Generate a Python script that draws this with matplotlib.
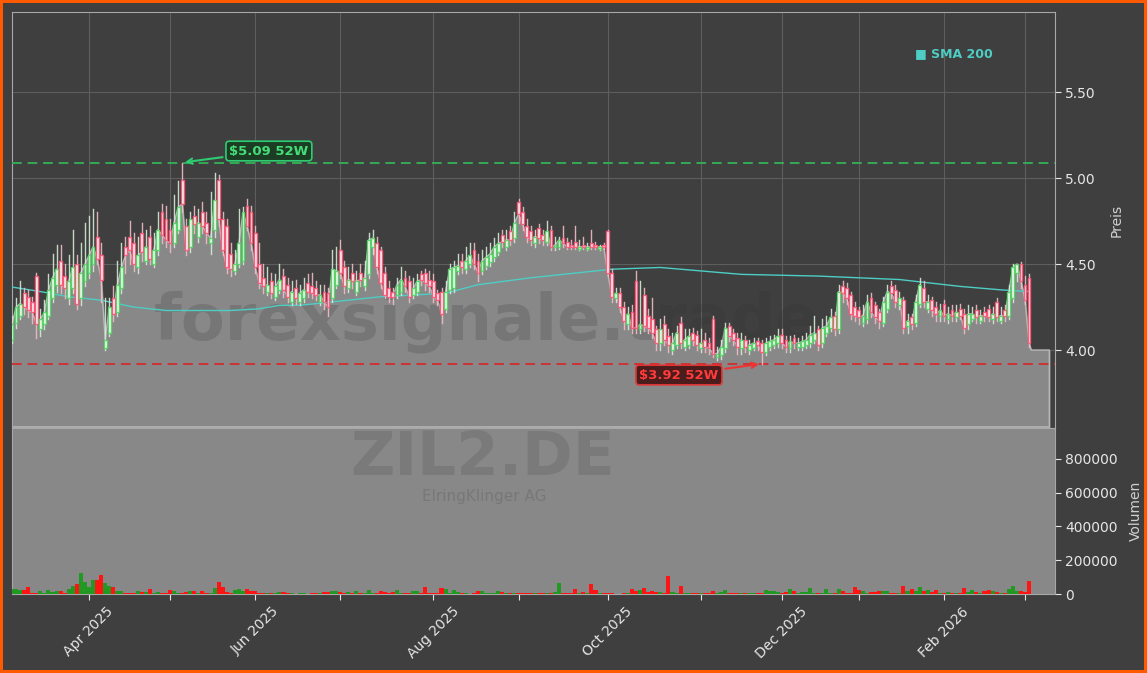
import matplotlib
matplotlib.use('Agg')
import matplotlib.pyplot as plt
from matplotlib.patches import Rectangle
import pandas as pd

# trading calendar (Xetra), Mar 2025 - Mar 2026
holidays = ['2025-04-18', '2025-04-21', '2025-05-01', '2025-12-24', '2025-12-25',
            '2025-12-26', '2025-12-31', '2026-01-01']

opens = [
    4.20, 4.06, 4.16, 4.20, 4.33, 4.31, 4.28, 4.43, 4.12, 4.15,
    4.20, 4.30, 4.38, 4.52, 4.43, 4.30, 4.36, 4.50, 4.30, 4.40,
    4.45, 4.50, 4.66, 4.55, 4.01, 4.10, 4.30, 4.22, 4.36, 4.60,
    4.66, 4.62, 4.48, 4.68, 4.52, 4.66, 4.50, 4.58, 4.80, 4.76,
    4.70, 4.62, 4.70, 4.99, 4.72, 4.60, 4.78, 4.66, 4.80, 4.74,
    4.62, 4.70, 4.99, 4.76, 4.72, 4.56, 4.46, 4.50, 4.52, 4.84,
    4.80, 4.68, 4.50, 4.42, 4.34, 4.40, 4.31, 4.35, 4.43, 4.38,
    4.28, 4.36, 4.28, 4.30, 4.39, 4.37, 4.36, 4.28, 4.34, 4.33,
    4.30, 4.38, 4.58, 4.48, 4.36, 4.45, 4.34, 4.45, 4.37, 4.44,
    4.60, 4.62, 4.58, 4.45, 4.36, 4.34, 4.32, 4.34, 4.42, 4.40,
    4.32, 4.34, 4.44, 4.45, 4.41, 4.40, 4.33, 4.34, 4.24, 4.35,
    4.36, 4.46, 4.52, 4.47, 4.50, 4.58, 4.52, 4.46, 4.49, 4.51,
    4.54, 4.57, 4.67, 4.60, 4.69, 4.65, 4.86, 4.80, 4.72, 4.69,
    4.62, 4.71, 4.67, 4.63, 4.70, 4.60, 4.60, 4.65, 4.63, 4.61,
    4.63, 4.59, 4.61, 4.59, 4.62, 4.61, 4.59, 4.61, 4.69, 4.45,
    4.30, 4.33, 4.25, 4.15, 4.22, 4.40, 4.12, 4.32, 4.20, 4.18,
    4.12, 4.04, 4.15, 4.08, 4.00, 4.03, 4.16, 4.02, 4.03, 4.10,
    4.09, 4.01, 4.06, 4.04, 4.18, 3.96, 3.97, 4.01, 4.14, 4.10,
    4.07, 4.01, 4.06, 4.00, 4.01, 4.05, 4.04, 3.99, 4.02, 4.03,
    4.04, 4.09, 4.06, 4.01, 4.07, 4.02, 4.02, 4.03, 4.04, 4.06,
    4.12, 4.04, 4.10, 4.13, 4.20, 4.12, 4.37, 4.36, 4.32, 4.25,
    4.23, 4.16, 4.18, 4.30, 4.26, 4.22, 4.16, 4.24, 4.37, 4.35,
    4.26, 4.29, 4.14, 4.19, 4.16, 4.27, 4.36, 4.24, 4.29, 4.25,
    4.20, 4.27, 4.18, 4.23, 4.19, 4.24, 4.21, 4.15, 4.18, 4.23,
    4.17, 4.22, 4.24, 4.18, 4.28, 4.17, 4.23, 4.20, 4.30, 4.45,
    4.50, 4.38, 4.42,
]
highs = [
    4.24, 4.20, 4.30, 4.40, 4.36, 4.35, 4.31, 4.45, 4.24, 4.29,
    4.44, 4.56, 4.61, 4.61, 4.50, 4.55, 4.70, 4.55, 4.62, 4.74,
    4.78, 4.82, 4.80, 4.62, 4.30, 4.30, 4.37, 4.52, 4.62, 4.66,
    4.75, 4.68, 4.66, 4.74, 4.70, 4.72, 4.68, 4.80, 4.85, 4.84,
    4.76, 4.90, 4.98, 5.09, 4.76, 4.80, 4.84, 4.82, 4.86, 4.80,
    4.92, 5.03, 5.02, 4.80, 4.76, 4.62, 4.58, 4.82, 4.83, 4.88,
    4.84, 4.72, 4.62, 4.50, 4.48, 4.45, 4.44, 4.50, 4.47, 4.42,
    4.40, 4.41, 4.38, 4.42, 4.44, 4.45, 4.40, 4.38, 4.38, 4.36,
    4.58, 4.60, 4.64, 4.52, 4.48, 4.50, 4.46, 4.50, 4.52, 4.68,
    4.70, 4.66, 4.60, 4.48, 4.40, 4.36, 4.42, 4.48, 4.46, 4.43,
    4.42, 4.44, 4.46, 4.47, 4.46, 4.44, 4.35, 4.36, 4.40, 4.50,
    4.52, 4.56, 4.56, 4.60, 4.62, 4.62, 4.56, 4.58, 4.60, 4.62,
    4.65, 4.68, 4.70, 4.70, 4.72, 4.80, 4.88, 4.83, 4.76, 4.72,
    4.70, 4.73, 4.70, 4.75, 4.72, 4.66, 4.66, 4.72, 4.65, 4.64,
    4.72, 4.64, 4.66, 4.62, 4.70, 4.63, 4.61, 4.62, 4.70, 4.47,
    4.36, 4.36, 4.28, 4.25, 4.26, 4.46, 4.40, 4.36, 4.24, 4.30,
    4.14, 4.18, 4.20, 4.12, 4.10, 4.14, 4.19, 4.12, 4.12, 4.13,
    4.11, 4.12, 4.10, 4.07, 4.20, 4.02, 4.06, 4.16, 4.16, 4.12,
    4.10, 4.10, 4.08, 4.06, 4.07, 4.07, 4.06, 4.07, 4.08, 4.09,
    4.12, 4.12, 4.08, 4.08, 4.09, 4.07, 4.08, 4.10, 4.14, 4.20,
    4.14, 4.18, 4.20, 4.24, 4.22, 4.38, 4.40, 4.39, 4.34, 4.28,
    4.25, 4.26, 4.32, 4.33, 4.28, 4.24, 4.31, 4.38, 4.40, 4.38,
    4.34, 4.31, 4.21, 4.21, 4.32, 4.42, 4.40, 4.32, 4.31, 4.28,
    4.27, 4.29, 4.25, 4.26, 4.26, 4.27, 4.24, 4.26, 4.25, 4.26,
    4.23, 4.25, 4.26, 4.25, 4.30, 4.25, 4.26, 4.38, 4.50, 4.50,
    4.51, 4.43, 4.44,
]
lows = [
    4.08, 4.04, 4.13, 4.18, 4.21, 4.19, 4.16, 4.07, 4.08, 4.12,
    4.18, 4.28, 4.34, 4.33, 4.30, 4.27, 4.33, 4.24, 4.26, 4.37,
    4.42, 4.46, 4.50, 4.28, 4.00, 4.08, 4.17, 4.20, 4.33, 4.45,
    4.50, 4.46, 4.45, 4.52, 4.50, 4.50, 4.48, 4.55, 4.62, 4.60,
    4.57, 4.60, 4.68, 4.80, 4.55, 4.57, 4.68, 4.63, 4.68, 4.62,
    4.56, 4.66, 4.72, 4.55, 4.45, 4.43, 4.44, 4.48, 4.50, 4.70,
    4.58, 4.45, 4.36, 4.33, 4.32, 4.30, 4.29, 4.33, 4.31, 4.28,
    4.26, 4.27, 4.26, 4.28, 4.31, 4.30, 4.29, 4.26, 4.24, 4.20,
    4.28, 4.36, 4.42, 4.33, 4.34, 4.36, 4.32, 4.37, 4.35, 4.42,
    4.56, 4.45, 4.36, 4.30, 4.28, 4.27, 4.30, 4.32, 4.34, 4.28,
    4.30, 4.32, 4.38, 4.35, 4.34, 4.28, 4.26, 4.16, 4.22, 4.33,
    4.34, 4.44, 4.45, 4.45, 4.48, 4.47, 4.40, 4.44, 4.47, 4.49,
    4.52, 4.55, 4.60, 4.58, 4.61, 4.63, 4.74, 4.70, 4.63, 4.61,
    4.60, 4.62, 4.61, 4.61, 4.58, 4.58, 4.59, 4.60, 4.59, 4.59,
    4.59, 4.58, 4.59, 4.58, 4.59, 4.59, 4.58, 4.59, 4.43, 4.28,
    4.28, 4.22, 4.12, 4.12, 4.10, 4.10, 4.10, 4.11, 4.10, 4.07,
    4.00, 4.00, 4.03, 3.99, 3.98, 4.01, 4.01, 4.00, 4.01, 4.03,
    4.00, 3.99, 3.99, 3.98, 3.96, 3.94, 3.95, 3.99, 4.05, 4.03,
    3.98, 3.98, 3.99, 3.98, 4.00, 4.00, 3.92, 3.97, 4.00, 4.01,
    4.02, 4.01, 3.99, 3.99, 4.01, 4.00, 4.00, 4.01, 4.02, 4.04,
    4.00, 4.02, 4.08, 4.11, 4.09, 4.10, 4.28, 4.27, 4.18, 4.17,
    4.15, 4.14, 4.16, 4.19, 4.16, 4.13, 4.14, 4.22, 4.30, 4.25,
    4.24, 4.10, 4.10, 4.12, 4.14, 4.25, 4.25, 4.22, 4.20, 4.17,
    4.17, 4.17, 4.16, 4.17, 4.17, 4.18, 4.10, 4.12, 4.17, 4.16,
    4.16, 4.17, 4.17, 4.16, 4.17, 4.16, 4.17, 4.18, 4.28, 4.40,
    4.36, 4.27, 4.02,
]
closes = [
    4.12, 4.15, 4.25, 4.27, 4.25, 4.23, 4.22, 4.15, 4.18, 4.22,
    4.35, 4.42, 4.47, 4.38, 4.36, 4.40, 4.48, 4.27, 4.45, 4.50,
    4.55, 4.60, 4.53, 4.41, 4.06, 4.25, 4.21, 4.38, 4.48, 4.55,
    4.58, 4.50, 4.55, 4.57, 4.60, 4.53, 4.58, 4.70, 4.67, 4.64,
    4.62, 4.74, 4.83, 4.85, 4.58, 4.76, 4.73, 4.74, 4.72, 4.68,
    4.65, 4.87, 4.76, 4.58, 4.48, 4.47, 4.50, 4.62, 4.80, 4.72,
    4.62, 4.48, 4.39, 4.37, 4.38, 4.33, 4.37, 4.41, 4.35, 4.31,
    4.34, 4.30, 4.33, 4.35, 4.34, 4.33, 4.32, 4.32, 4.28, 4.25,
    4.47, 4.46, 4.45, 4.37, 4.41, 4.40, 4.40, 4.41, 4.42, 4.64,
    4.65, 4.48, 4.39, 4.32, 4.31, 4.31, 4.38, 4.41, 4.37, 4.31,
    4.36, 4.40, 4.41, 4.39, 4.37, 4.31, 4.29, 4.21, 4.34, 4.47,
    4.48, 4.49, 4.48, 4.52, 4.55, 4.50, 4.45, 4.52, 4.54, 4.56,
    4.60, 4.62, 4.63, 4.64, 4.64, 4.74, 4.79, 4.73, 4.66, 4.64,
    4.66, 4.65, 4.64, 4.69, 4.60, 4.61, 4.64, 4.62, 4.60, 4.60,
    4.60, 4.60, 4.60, 4.60, 4.60, 4.60, 4.60, 4.60, 4.45, 4.31,
    4.33, 4.25, 4.17, 4.21, 4.13, 4.13, 4.15, 4.14, 4.13, 4.10,
    4.04, 4.12, 4.06, 4.03, 4.04, 4.10, 4.04, 4.06, 4.08, 4.06,
    4.03, 4.04, 4.02, 4.01, 3.98, 3.98, 4.02, 4.13, 4.08, 4.06,
    4.02, 4.06, 4.02, 4.03, 4.04, 4.03, 3.99, 4.04, 4.05, 4.06,
    4.08, 4.04, 4.02, 4.05, 4.04, 4.04, 4.05, 4.06, 4.09, 4.10,
    4.03, 4.13, 4.14, 4.19, 4.12, 4.34, 4.33, 4.30, 4.21, 4.20,
    4.19, 4.20, 4.28, 4.22, 4.19, 4.17, 4.28, 4.34, 4.33, 4.28,
    4.30, 4.13, 4.17, 4.15, 4.28, 4.38, 4.28, 4.28, 4.23, 4.21,
    4.23, 4.20, 4.21, 4.20, 4.22, 4.20, 4.13, 4.21, 4.21, 4.19,
    4.20, 4.20, 4.19, 4.21, 4.19, 4.20, 4.20, 4.34, 4.48, 4.50,
    4.40, 4.29, 4.04,
]
volumes = [
    35000, 30000, 28000, 25000, 22000, 40000, 8000, 8000, 20000, 6000,
    25000, 10000, 15000, 20000, 5000, 30000, 45000, 60000, 125000, 70000,
    40000, 85000, 85000, 112000, 65000, 45000, 40000, 20000, 15000, 5000,
    3000, 4000, 18000, 10000, 10000, 30000, 8000, 10000, 5000, 4000,
    25000, 20000, 6000, 4000, 12000, 15000, 20000, 6000, 20000, 5000,
    3000, 35000, 70000, 40000, 10000, 8000, 25000, 30000, 15000, 30000,
    20000, 15000, 5000, 5000, 4000, 3000, 5000, 10000, 10000, 3000,
    3000, 2000, 4000, 3000, 2000, 3000, 4000, 3000, 10000, 10000,
    15000, 15000, 12000, 3000, 10000, 3000, 15000, 4000, 3000, 25000,
    5000, 3000, 18000, 12000, 4000, 12000, 25000, 8000, 3000, 4000,
    18000, 18000, 4000, 40000, 8000, 5000, 3000, 38000, 30000, 5000,
    25000, 10000, 3000, 3000, 2000, 3000, 15000, 15000, 3000, 4000,
    3000, 15000, 10000, 3000, 3000, 8000, 8000, 3000, 8000, 3000,
    5000, 8000, 5000, 8000, 5000, 12000, 65000, 5000, 3000, 5000,
    30000, 3000, 10000, 4000, 58000, 22000, 5000, 3000, 8000, 8000,
    2000, 2000, 8000, 3000, 27000, 20000, 22000, 35000, 10000, 15000,
    12000, 12000, 3000, 105000, 10000, 5000, 48000, 3000, 5000, 8000,
    8000, 8000, 5000, 3000, 18000, 3000, 10000, 22000, 3000, 5000,
    8000, 8000, 8000, 8000, 3000, 5000, 8000, 25000, 15000, 15000,
    10000, 3000, 12000, 28000, 15000, 3000, 12000, 12000, 38000, 3000,
    5000, 3000, 28000, 3000, 3000, 32000, 15000, 3000, 5000, 40000,
    22000, 20000, 3000, 10000, 10000, 15000, 15000, 15000, 5000, 5000,
    3000, 45000, 15000, 28000, 20000, 40000, 20000, 25000, 10000, 25000,
    5000, 3000, 10000, 5000, 3000, 3000, 35000, 10000, 22000, 10000,
    3000, 18000, 22000, 18000, 10000, 3000, 3000, 30000, 48000, 15000,
    15000, 10000, 78000,
]

# SMA 200 read at a few trading-day positions
sma_at = [0, 8, 15, 23, 31, 39, 47, 55, 62, 67, 72, 80, 92, 108, 116, 129,
          141, 149, 161, 171, 181, 200, 210, 220, 235, 245, 252]
sma_vals = [4.37, 4.34, 4.31, 4.29, 4.25, 4.23, 4.23, 4.23, 4.24, 4.26, 4.26,
            4.28, 4.31, 4.33, 4.38, 4.42, 4.45, 4.47, 4.48, 4.46, 4.44, 4.43,
            4.42, 4.41, 4.37, 4.35, 4.34]

last_price = 4.00
high_52w = 5.09
low_52w = 3.92

BG = '#3f3f3f'
FILL = '#888888'
TEAL = '#4ecdc4'


def draw_candles(ax, n):
    for i in range(n):
        o, h, l, c = opens[i], highs[i], lows[i], closes[i]
        up = c >= o
        edge = '#4fd65f' if up else '#ff5274'
        wick = '#d6ead6' if up else '#f2bcc6'
        ax.plot([i, i], [l, h], color=wick, lw=1, alpha=0.9, zorder=4)
        bottom = min(o, c)
        height = max(abs(c - o), 0.006)
        ax.add_patch(Rectangle((i - 0.35, bottom), 0.7, height, facecolor=(1, 1, 1, 0.3),
                               edgecolor=edge, lw=1, alpha=0.9, zorder=5))


def main():
    dates = pd.bdate_range('2025-03-04', '2026-03-03')
    dates = dates[~dates.isin(pd.to_datetime(holidays))]
    n = min(len(dates), len(closes), len(opens), len(highs), len(lows), len(volumes))
    idx = list(range(n))

    fig = plt.figure(figsize=(11.47, 6.73), dpi=100)
    fig.patch.set_facecolor(BG)
    fig.patch.set_edgecolor('#ff5a00')
    fig.patch.set_linewidth(4)

    W, H = 1147, 673
    ax = fig.add_axes([12 / W, 1 - 428 / H, 1043 / W, 416 / H])
    axv = fig.add_axes([12 / W, 1 - 594 / H, 1043 / W, 166 / H], sharex=ax)

    ylo, yhi = 3.547, 5.965
    ax.set_facecolor(BG)
    ax.set_ylim(ylo, yhi)
    ax.set_xlim(1.0, 258.4)

    # grey area under the close line, running on flat to the last price
    fx = idx + [n - 0.5, n + 4]
    fy = closes[:n] + [last_price, last_price]
    ax.fill_between(fx, fy, ylo, color=FILL, zorder=1)
    ax.plot(fx + [n + 4], fy + [ylo], color='#b8b8b8', lw=1, zorder=2)
    ax.plot([1.0, n + 4], [ylo + 0.003, ylo + 0.003], color='#b4b4b4', lw=1.2, zorder=2)

    ax.text(0.455, 0.255, 'forexsignale.trade', transform=ax.transAxes, ha='center', va='center',
            fontsize=46, fontweight='bold', color='#303030', alpha=0.2, zorder=3)

    ax.plot(sma_at, sma_vals, color=TEAL, lw=1.0, zorder=3)
    draw_candles(ax, n)

    ax.axhline(high_52w, color='#33aa55', lw=1.4, ls=(0, (5, 3)), zorder=3)
    ax.axhline(low_52w, color='#cc3333', lw=1.4, ls=(0, (5, 3)), zorder=3)

    hi_i = highs.index(high_52w)
    lo_i = lows.index(low_52w)
    ax.annotate(f'${high_52w:.2f} 52W', xy=(hi_i, high_52w), xytext=(64.4, 5.157),
                ha='center', va='center', color='#44dd77', fontsize=9.5, fontweight='bold',
                bbox=dict(boxstyle='round,pad=0.25', fc='#1c3d24', ec='#2ecc71', lw=1.2),
                arrowprops=dict(arrowstyle='->', color='#2ecc71', lw=1.5), zorder=6)
    ax.annotate(f'${low_52w:.2f} 52W', xy=(lo_i, low_52w), xytext=(165.6, 3.855),
                ha='center', va='center', color='#ff3b3b', fontsize=9.5, fontweight='bold',
                bbox=dict(boxstyle='round,pad=0.25', fc='#4a1c1c', ec='#dd3333', lw=1.2),
                arrowprops=dict(arrowstyle='->', color='#ee3333', lw=1.5), zorder=6)

    ax.text(0.866, 0.899, '■ SMA 200', transform=ax.transAxes, ha='left', va='center',
            color=TEAL, fontsize=9, fontweight='bold', zorder=6)

    # month ticks, labels every second month
    ticks = [i for i in range(1, n) if dates[i].month != dates[i - 1].month]
    labels = [dates[i].strftime('%b %Y') if dates[i].month % 2 == 0 else '' for i in ticks]

    ax.set_xticks(ticks)
    ax.grid(True, color='#5e5e5e', lw=0.8, zorder=0)
    ax.set_axisbelow(True)
    ax.tick_params(axis='x', labelbottom=False, length=0)
    ax.set_yticks([4.0, 4.5, 5.0, 5.5])
    ax.yaxis.set_major_formatter(plt.FormatStrFormatter('%.2f'))
    ax.yaxis.tick_right()
    ax.yaxis.set_label_position('right')
    ax.tick_params(axis='y', colors='#e6e6e6', labelsize=10, length=4)
    ax.set_ylabel('Preis', color='#d0d0d0', fontsize=10, labelpad=10)
    for s in ax.spines.values():
        s.set_color('#a8a8a8')
    ax.spines['bottom'].set_visible(False)

    # volume panel
    axv.set_facecolor(FILL)
    vcol = ['#229922' if closes[i] >= opens[i] else '#ff1414' for i in idx]
    axv.bar(idx, volumes[:n], width=1.0, color=vcol, zorder=3)
    axv.set_ylim(0, 983700)
    axv.set_yticks([0, 200000, 400000, 600000, 800000])
    axv.yaxis.set_major_formatter(plt.FuncFormatter(lambda v, p: f'{int(v)}'))
    axv.yaxis.tick_right()
    axv.yaxis.set_label_position('right')
    axv.tick_params(axis='y', colors='#e6e6e6', labelsize=10, length=4)
    axv.set_ylabel('Volumen', color='#d0d0d0', fontsize=10, labelpad=8)
    axv.set_xticks(ticks)
    axv.set_xticklabels(labels, rotation=45, ha='center', color='#e6e6e6', fontsize=10)
    axv.tick_params(axis='x', colors='#e6e6e6', length=4)
    for s in axv.spines.values():
        s.set_color('#a8a8a8')

    axv.text(0.451, 0.815, 'ZIL2.DE', transform=axv.transAxes, ha='center', va='center',
             fontsize=44, fontweight='bold', color='#5a5a5a', alpha=0.3, zorder=1)
    axv.text(0.453, 0.59, 'ElringKlinger AG', transform=axv.transAxes, ha='center', va='center',
             fontsize=11, color='#5a5a5a', alpha=0.35, zorder=1)

    fig.savefig('out.png', dpi=100, facecolor=fig.get_facecolor(), edgecolor=fig.get_edgecolor())


if __name__ == "__main__":
    main()
